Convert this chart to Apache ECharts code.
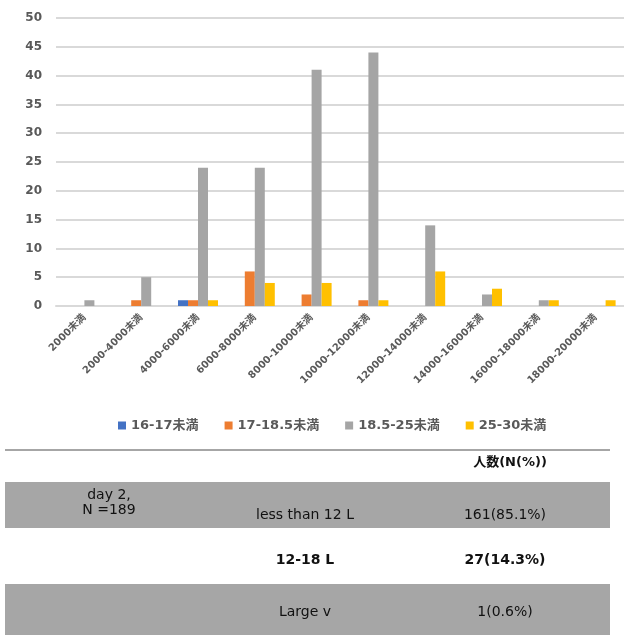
<!DOCTYPE html>
<html>
<head>
<meta charset="utf-8">
<script src="https://cdn.jsdelivr.net/npm/echarts@6/dist/echarts.min.js"></script>
<style>
  html, body { margin: 0; padding: 0; background: #fff; }
  #chart { width: 624px; height: 635px; }
</style>
</head>
<body>
<div id="chart"></div>
<script>
// Income bands (x axis)
const categories = [
  '2000未満', '2000-4000未満', '4000-6000未満', '6000-8000未満', '8000-10000未満',
  '10000-12000未満', '12000-14000未満', '14000-16000未満', '16000-18000未満', '18000-20000未満'
];
// BMI groups (series)
const seriesNames = ['16-17未満', '17-18.5未満', '18.5-25未満', '25-30未満'];
const bmi16to17 = [0, 0, 1, 0, 0, 0, 0, 0, 0, 0];
const bmi17to185 = [0, 1, 1, 6, 2, 1, 0, 0, 0, 0];
const bmi185to25 = [1, 5, 24, 24, 41, 44, 14, 2, 1, 0];
const bmi25to30 = [0, 0, 1, 4, 4, 1, 6, 3, 1, 1];
const yTicks = [0, 5, 10, 15, 20, 25, 30, 35, 40, 45, 50];

// Summary table
const tableHeader = '人数(N(%))';
const tableGroup = 'day 2,\nN =189';
const tableRows = ['less than 12 L', '12-18 L', 'Large v'];
const tableCounts = ['161(85.1%)', '27(14.3%)', '1(0.6%)'];
const tableBold = [false, true, false];
const tableShaded = [true, false, true];

const colors = ['#4472c4', '#ed7d31', '#a5a5a5', '#ffc000'];
const seriesData = [bmi16to17, bmi17to185, bmi185to25, bmi25to30];

const chart = echarts.init(document.getElementById('chart'));

// Table geometry
const rowTops = [482, 528, 584];
const rowHeights = [46, 56, 51];
const tableGraphics = [
  { type: 'line', shape: { x1: 5, y1: 450, x2: 610, y2: 450 }, style: { stroke: '#a6a6a6', lineWidth: 2 } },
  { type: 'text', x: 510, y: 463, style: { text: tableHeader, fontFamily: 'DejaVu Sans, Noto Sans CJK JP', fontSize: 13, fontWeight: 'bold', fill: '#111', align: 'center', verticalAlign: 'middle' } }
];
tableRows.forEach((label, i) => {
  if (tableShaded[i]) {
    tableGraphics.push({ type: 'rect', shape: { x: 5, y: rowTops[i], width: 605, height: rowHeights[i] }, style: { fill: '#a6a6a6' }, z: 0 });
  }
  const cy = [515, 560, 612][i];
  const font = { fontFamily: 'DejaVu Sans', fontSize: 14, fontWeight: tableBold[i] ? 'bold' : 'normal', fill: '#111', align: 'center', verticalAlign: 'middle' };
  tableGraphics.push({ type: 'text', x: 305, y: cy, z: 2, style: Object.assign({ text: label }, font) });
  tableGraphics.push({ type: 'text', x: 505, y: cy, z: 2, style: Object.assign({ text: tableCounts[i] }, font) });
});
tableGraphics.push({ type: 'text', x: 109, y: 503, z: 2, style: { text: tableGroup, fontFamily: 'DejaVu Sans', fontSize: 14, fill: '#111', align: 'center', verticalAlign: 'middle', lineHeight: 15 } });

chart.setOption({
  animation: false,
  color: colors,
  grid: { left: 56, right: 0, top: 18, bottom: 329, containLabel: false },
  legend: {
    data: seriesNames,
    top: 414,
    left: 113,
    itemWidth: 8,
    itemHeight: 8,
    itemGap: 26,
    icon: 'rect',
    textStyle: { color: '#595959', fontSize: 13, fontWeight: 'bold', fontFamily: 'DejaVu Sans, Noto Sans CJK JP' }
  },
  xAxis: {
    type: 'category',
    data: categories,
    axisTick: { show: false },
    axisLine: { lineStyle: { color: '#d9d9d9', width: 2 } },
    axisLabel: {
      interval: 0,
      rotate: 45,
      margin: 10,
      color: '#595959',
      fontSize: 10,
      fontWeight: 'bold',
      fontFamily: 'DejaVu Sans, Noto Sans CJK JP'
    }
  },
  yAxis: {
    type: 'value',
    min: yTicks[0],
    max: yTicks[yTicks.length - 1],
    interval: 5,
    axisLine: { show: false },
    axisTick: { show: false },
    splitLine: { lineStyle: { color: '#d9d9d9', width: 2 } },
    axisLabel: { color: '#595959', fontSize: 12, fontWeight: 'bold', margin: 14, fontFamily: 'DejaVu Sans' }
  },
  series: seriesNames.map((name, i) => ({
    name,
    type: 'bar',
    data: seriesData[i],
    barWidth: 10,
    barGap: '0%',
    itemStyle: { color: colors[i] }
  })),
  graphic: tableGraphics
});
</script>
</body>
</html>
